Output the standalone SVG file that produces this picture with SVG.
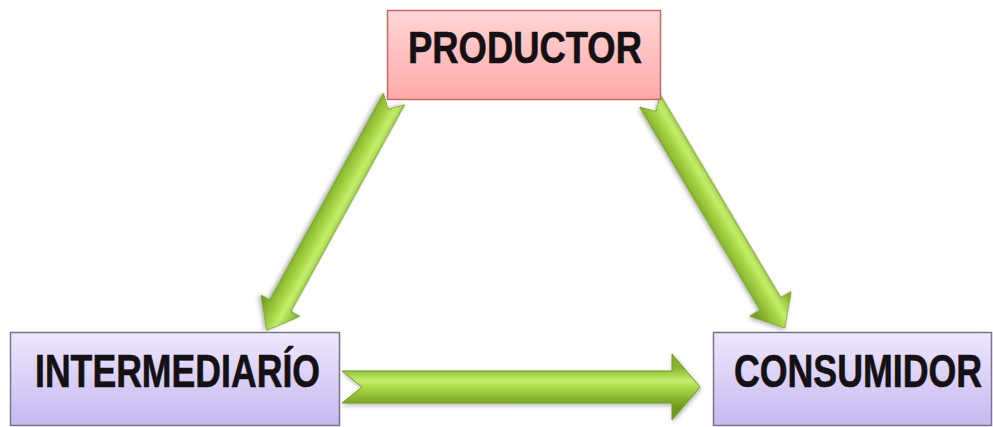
<svg xmlns="http://www.w3.org/2000/svg" width="993" height="427" viewBox="0 0 993 427">
<style>
.lbl{font-family:"Liberation Sans Narrow","Liberation Sans",Arial,sans-serif;font-weight:bold;font-size:36px;fill:#141014;text-anchor:start;stroke:#141014;stroke-width:0.5}
.arrow{fill:url(#g);stroke:#6f9a22;stroke-width:1;filter:url(#sh)}
</style>
<defs>
<linearGradient id="pink" x1="0" y1="0" x2="0" y2="1">
<stop offset="0" stop-color="#ffd6d6"/><stop offset="1" stop-color="#ffa9a9"/>
</linearGradient>
<linearGradient id="purple" x1="0" y1="0" x2="0" y2="1">
<stop offset="0" stop-color="#eee8fd"/><stop offset="1" stop-color="#c7b8ef"/>
</linearGradient>
<linearGradient id="g" gradientUnits="userSpaceOnUse" x1="0" y1="-20" x2="0" y2="20">
<stop offset="0" stop-color="#86b42c"/><stop offset="0.35" stop-color="#c4ee6a"/><stop offset="0.55" stop-color="#a6d445"/><stop offset="1" stop-color="#6e9a1e"/>
</linearGradient>
<filter id="sh" x="-20%" y="-50%" width="140%" height="200%">
<feDropShadow dx="1" dy="2" stdDeviation="2" flood-color="#000" flood-opacity="0.3"/>
</filter>
</defs>
<g id="connectors">
<path class="arrow" transform="translate(394,99) rotate(118.8)" d="M0,-12 L236,-12 L236,-22 L264,0 L236,22 L236,12 L0,12 L12,0 Z"/>
<path class="arrow" transform="translate(650,101) rotate(59.3)" d="M0,-12 L236,-12 L236,-24 L264,0 L236,24 L236,12 L0,12 L12,0 Z"/>
<path class="arrow" transform="translate(342,387)" d="M0,-16 L330,-16 L330,-33 L358,0 L330,33 L330,16 L0,16 L20,0 Z"/>
</g>
<g id="productor">
<rect x="387.5" y="10.5" width="273" height="89" fill="url(#pink)" stroke="#c06a6a" stroke-width="1.5"/>
<text class="lbl" transform="translate(408,63) scale(1,1.222)" x="0" y="0" textLength="234" lengthAdjust="spacingAndGlyphs">PRODUCTOR</text>
</g>
<g id="intermediario">
<rect x="10.5" y="332.5" width="329" height="93" fill="url(#purple)" stroke="#7b7389" stroke-width="1.5"/>
<text class="lbl" transform="translate(35,387) scale(1,1.278)" x="0" y="0" textLength="285" lengthAdjust="spacingAndGlyphs">INTERMEDIARÍO</text>
</g>
<g id="consumidor">
<rect x="713.5" y="332.5" width="278" height="93" fill="url(#purple)" stroke="#7b7389" stroke-width="1.5"/>
<text class="lbl" transform="translate(734,387) scale(1,1.278)" x="0" y="0" textLength="248" lengthAdjust="spacingAndGlyphs">CONSUMIDOR</text>
</g>
</svg>
